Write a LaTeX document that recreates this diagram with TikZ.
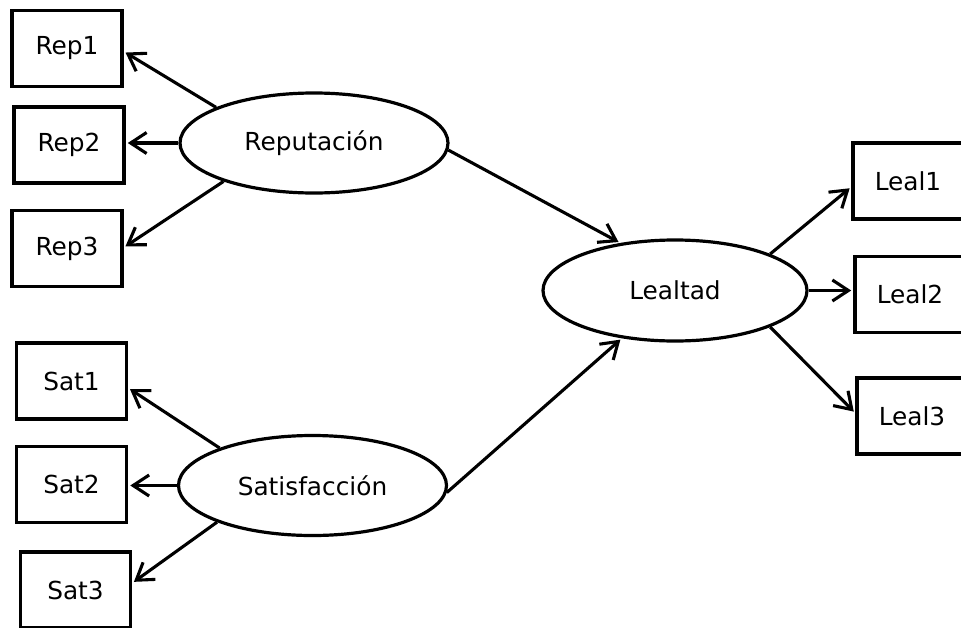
\documentclass[tikz,border=0pt]{standalone}
\usepackage{fontspec}
\setmainfont{DejaVu Sans}
\usetikzlibrary{arrows.meta, shapes.geometric}

\tikzset{
  indicator/.style={draw, line width=3.6pt, rectangle, minimum width=110pt,
    minimum height=76pt, inner sep=0pt, font=\fontsize{24.8pt}{28pt}\selectfont},
  latent/.style={draw, line width=3.2pt, ellipse, minimum width=268pt,
    minimum height=100pt, inner sep=0pt, font=\fontsize{24.8pt}{28pt}\selectfont},
  link/.style={line width=3.1pt, -{Straight Barb[length=16pt, width=21pt]},
    shorten >=2pt}
}

\begin{document}
\begin{tikzpicture}[x=1pt, y=-1pt]
  \useasboundingbox (0,0) rectangle (961,627);

  % observed indicators of Reputacion
  \node[indicator] (rep1) at (67,48.5) {Rep1};
  \node[indicator] (rep2) at (69,145) {Rep2};
  \node[indicator] (rep3) at (67,248.5) {Rep3};

  % observed indicators of Satisfaccion
  \node[indicator] (sat1) at (71.5,381) {Sat1};
  \node[indicator] (sat2) at (71.5,484.5) {Sat2};
  \node[indicator] (sat3) at (75.5,590) {Sat3};

  % observed indicators of Lealtad (cut by the right margin)
  \node[indicator] (leal1) at (908,181) {Leal1};
  \node[indicator] (leal2) at (910,294.5) {Leal2};
  \node[indicator] (leal3) at (912,416) {Leal3};

  % latent constructs
  \node[latent] (rep) at (314,143) {Reputación};
  \node[latent] (sat) at (312.5,485.5) {Satisfacción};
  \node[latent, minimum width=264pt, minimum height=101pt] (leal) at (675,290.5) {Lealtad};

  % measurement paths
  \draw[link] (rep.160) -- ([yshift=-3pt]rep1.east);
  \draw[link] (rep.west) -- (rep2.east |- rep.west);
  \draw[link] (rep.203) -- ([yshift=1pt]rep3.east);

  \draw[link] (sat.158) -- ([yshift=-7pt]sat1.east);
  \draw[link] (sat.west) -- (sat2.east |- sat.west);
  \draw[link] (sat.201) -- ([yshift=7pt]sat3.east);

  \draw[link] (leal.21) -- ([yshift=-6pt]leal1.west);
  \draw[link] (leal.east) -- (leal2.west |- leal.east);
  \draw[link] (leal.-21) -- ([yshift=3pt]leal3.west);

  % structural paths
  \draw[link] (rep.-3) -- (leal.139);
  \draw[link] (sat.-3) -- (leal.-138);
\end{tikzpicture}
\end{document}
